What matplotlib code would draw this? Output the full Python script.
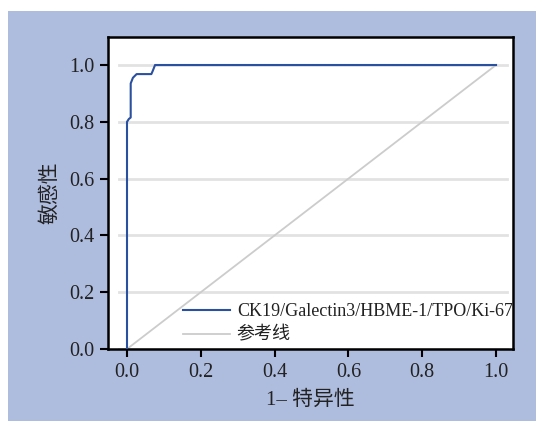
import matplotlib
matplotlib.use("Agg")
import matplotlib.pyplot as plt
from matplotlib.patches import Rectangle

plt.rcParams['font.family'] = ['Liberation Serif', 'Noto Sans CJK SC', 'DejaVu Sans']

# ROC curve
fpr = [0.0, 0.0, 0.005, 0.01, 0.01, 0.016, 0.026, 0.066, 0.07, 0.076, 1.0]
tpr = [0.0, 0.80, 0.81, 0.815, 0.935, 0.955, 0.968, 0.968, 0.98, 1.0, 1.0]
ref_x = [0.0, 1.0]
ref_y = [0.0, 1.0]
ticks = [0.0, 0.2, 0.4, 0.6, 0.8, 1.0]
tick_labels = ["0.0", "0.2", "0.4", "0.6", "0.8", "1.0"]
roc_label = "CK19/Galectin3/HBME-1/TPO/Ki-67"
ref_label = "参考线"

fig = plt.figure(figsize=(5.36, 4.21), dpi=100)
fig.patch.set_facecolor("white")
fig.patches.append(Rectangle((8 / 536, 0), 1, (421 - 11) / 421, transform=fig.transFigure,
                             facecolor="#aebcde", edgecolor="none", zorder=-10))

ax = fig.add_axes([108 / 536, 1 - 349 / 421, (513 - 108) / 536, (349 - 37) / 421])
ax.set_facecolor("white")

for t in ticks:
    ax.axhline(t, xmin=0.028, xmax=0.985, color="#e2e2e2", lw=2, zorder=1)

ax.plot(ref_x, ref_y, color="#cccccc", lw=1.3, label=ref_label, zorder=2)
ax.plot(fpr, tpr, color="#2a50a0", lw=1.5, label=roc_label, zorder=3)

ax.set_xlim(-0.0515, 1.046)
ax.set_ylim(0, 1.0986)
ax.set_xticks(ticks)
ax.set_xticklabels(tick_labels)
ax.set_yticks(ticks)
ax.set_yticklabels(tick_labels)
ax.tick_params(direction="out", length=6, width=1.5, labelsize=14.5, colors="black",
               labelcolor="#222222", pad=4)
for s in ax.spines.values():
    s.set_linewidth(1.8)

ax.set_xlabel("1– 特异性", fontsize=15, color="#222222", labelpad=6)
ax.set_ylabel("敏感性", fontsize=15, color="#222222", labelpad=6)

h, l = ax.get_legend_handles_labels()
ax.legend(h[::-1], l[::-1], loc="lower right", bbox_to_anchor=(1.008, 0.005),
          frameon=False, fontsize=13,
          handlelength=2.6, handletextpad=0.35, labelspacing=0.35,
          borderaxespad=0.0, borderpad=0.2, labelcolor="#222222")

fig.savefig("out.png", dpi=100, facecolor=fig.get_facecolor())
